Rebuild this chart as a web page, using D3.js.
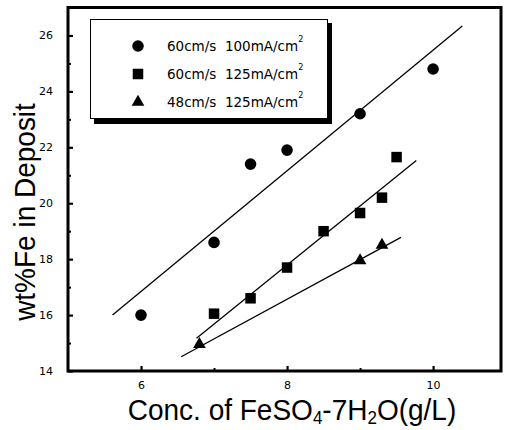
<!DOCTYPE html>
<html>
<head>
<meta charset="utf-8">
<script src="https://cdn.jsdelivr.net/npm/d3@7"></script>
<style>
  html, body { margin: 0; padding: 0; background: #fff; }
  svg { display: block; }
</style>
</head>
<body>
<svg id="chart" width="506" height="430"></svg>
<script>
// ---- data ----
const seriesNames = ["60cm/s  100mA/cm", "60cm/s  125mA/cm", "48cm/s  125mA/cm"];
const circleX = [6, 7, 7.5, 8, 9, 10];
const circleY = [16.0, 18.6, 21.4, 21.9, 23.2, 24.8];
const squareX = [7, 7.5, 8, 8.5, 9, 9.3, 9.5];
const squareY = [16.05, 16.6, 17.7, 19.0, 19.65, 20.2, 21.65];
const triangleX = [6.8, 9, 9.3];
const triangleY = [14.95, 17.95, 18.5];
// fitted lines (end points)
const circleFitX = [5.61, 10.40];
const circleFitY = [16.0, 26.34];
const squareFitX = [6.76, 9.77];
const squareFitY = [15.17, 21.53];
const triangleFitX = [6.55, 9.56];
const triangleFitY = [14.51, 18.78];
const xTickLabels = [6, 8, 10];
const yTickLabels = [14, 16, 18, 20, 22, 24, 26];
const xMinorTicks = [7, 9];
const yMinorTicks = [15, 17, 19, 21, 23, 25];

const svg = d3.select("#chart");
const L = 68, R = 501, T = 7.5, B = 371;
const x = d3.scaleLinear().domain([5, 10.93]).range([L, R]);
const y = d3.scaleLinear().domain([14, 27]).range([B, T]);

const tickFont = "'DejaVu Sans', sans-serif";

// axes (ticks inward)
const xAxis = d3.axisBottom(x).tickValues(xTickLabels).tickSize(-5).tickPadding(10).tickFormat(d3.format("d"));
const gx = svg.append("g").attr("transform", `translate(0,${B})`).call(xAxis);
gx.select(".domain").remove();
gx.selectAll(".tick line").attr("stroke", "#000").attr("stroke-width", 2.2);
gx.selectAll(".tick text").attr("font-family", tickFont).attr("font-size", 11).attr("fill", "#000");

const xMinor = d3.axisBottom(x).tickValues(xMinorTicks).tickSize(-3).tickFormat("");
const gxm = svg.append("g").attr("transform", `translate(0,${B})`).call(xMinor);
gxm.select(".domain").remove();
gxm.selectAll(".tick line").attr("stroke", "#000").attr("stroke-width", 2);

const yAxis = d3.axisLeft(y).tickValues(yTickLabels).tickSize(-5).tickPadding(15).tickFormat(d3.format("d"));
const gy = svg.append("g").attr("transform", `translate(${L},0)`).call(yAxis);
gy.select(".domain").remove();
gy.selectAll(".tick line").attr("stroke", "#000").attr("stroke-width", 2.2);
gy.selectAll(".tick text").attr("font-family", tickFont).attr("font-size", 11).attr("fill", "#000");

const yMinor = d3.axisLeft(y).tickValues(yMinorTicks).tickSize(-3).tickFormat("");
const gym = svg.append("g").attr("transform", `translate(${L},0)`).call(yMinor);
gym.select(".domain").remove();
gym.selectAll(".tick line").attr("stroke", "#000").attr("stroke-width", 2);

// frame
svg.append("rect").attr("x", L).attr("y", T).attr("width", R - L).attr("height", B - T)
  .attr("fill", "none").attr("stroke", "#000").attr("stroke-width", 3);

// fit lines
const line = d3.line().x(d => x(d[0])).y(d => y(d[1]));
[[circleFitX, circleFitY], [squareFitX, squareFitY], [triangleFitX, triangleFitY]].forEach(([fx, fy]) => {
  svg.append("path").attr("d", line(d3.zip(fx, fy)))
    .attr("fill", "none").attr("stroke", "#000").attr("stroke-width", 1.3);
});

// markers
const symCircle = d3.symbol().type(d3.symbolCircle).size(Math.PI * 5.8 * 5.8);
const symSquare = d3.symbol().type(d3.symbolSquare).size(10.5 * 10.5);
const symTri = d3.symbol().type(d3.symbolTriangle).size(70);
const series = [
  { xs: circleX, ys: circleY, sym: symCircle },
  { xs: squareX, ys: squareY, sym: symSquare },
  { xs: triangleX, ys: triangleY, sym: symTri }
];
series.forEach(s => {
  svg.append("g").selectAll("path").data(d3.zip(s.xs, s.ys)).join("path")
    .attr("d", s.sym())
    .attr("transform", d => `translate(${x(d[0])},${y(d[1])})`)
    .attr("fill", "#000");
});

// legend
const lg = svg.append("g");
lg.append("rect").attr("x", 94).attr("y", 23).attr("width", 238).attr("height", 101).attr("fill", "#000");
lg.append("rect").attr("x", 90.5).attr("y", 19.5).attr("width", 237).attr("height", 99)
  .attr("fill", "#fff").attr("stroke", "#000").attr("stroke-width", 1);
const legSyms = [symCircle, symSquare, symTri];
const legY = [46, 74, 102];
seriesNames.forEach((name, i) => {
  lg.append("path").attr("d", legSyms[i]()).attr("transform", `translate(138,${legY[i]})`).attr("fill", "#000");
  const t = lg.append("text").attr("x", 167).attr("y", legY[i] + 5)
    .attr("font-family", tickFont).attr("font-size", 13.5).attr("fill", "#000")
    .style("white-space", "pre");
  t.append("tspan").text(name);
  t.append("tspan").attr("dy", -9).attr("font-size", 8).text("2");
});

// axis titles
const titleFont = "'Liberation Sans', Arial, sans-serif";
const xt = svg.append("text").attr("transform", "translate(292,420) scale(1,1.08)")
  .attr("text-anchor", "middle").attr("font-family", titleFont).attr("font-size", 28).attr("fill", "#000");
xt.append("tspan").text("Conc. of FeSO");
xt.append("tspan").attr("font-size", 17).attr("dy", 4).text("4");
xt.append("tspan").attr("dy", -4).text("-7H");
xt.append("tspan").attr("font-size", 17).attr("dy", 4).text("2");
xt.append("tspan").attr("dy", -4).text("O(g/L)");

svg.append("text").attr("transform", "translate(35,212) rotate(-90) scale(1,1.08)")
  .attr("text-anchor", "middle").attr("font-family", titleFont).attr("font-size", 28).attr("fill", "#000")
  .text("wt%Fe in Deposit");
</script>
</body>
</html>
